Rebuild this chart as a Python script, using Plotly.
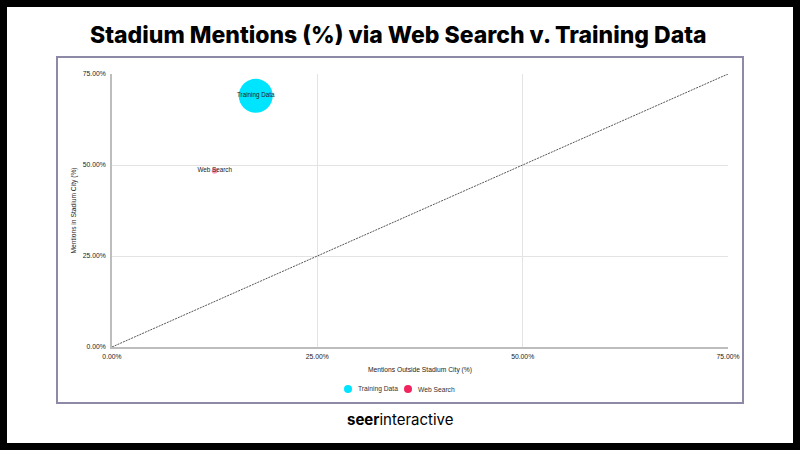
import plotly.graph_objects as go

# data
series = ["Training Data", "Web Search"]
outside_city = [0.175, 0.125]   # x, share of mentions outside stadium city
in_city = [0.69, 0.484]         # y, share of mentions in stadium city
bubble_weight = [32, 1]
colors = ["#00E5FF", "#F2245E"]
tick_vals = [0, 0.25, 0.5, 0.75]
tick_text = ["0.00%", "25.00%", "50.00%", "75.00%"]

W, H = 800, 450
L, R, T, B = 112, 72, 74, 103
pw, ph = W - L - R, H - T - B


def px(x):
    return (x - L) / pw


def py(y):
    return (H - B - y) / ph


fig = go.Figure()

# reference diagonal
fig.add_trace(go.Scatter(x=[0, 0.75], y=[0, 0.75], mode="lines",
                         line=dict(color="#555555", width=1, dash="2px,1px"),
                         showlegend=False, hoverinfo="skip"))

sizeref = 2.0 * max(bubble_weight) / (34 ** 2)
opac = [1.0, 0.45]
for i, name in enumerate(series):
    fig.add_trace(go.Scatter(x=[outside_city[i]], y=[in_city[i]],
                             mode="markers+text", text=[name],
                             textposition="middle center",
                             textfont=dict(family="Liberation Sans", size=6.3, color="#222222"),
                             marker=dict(size=[bubble_weight[i]], sizemode="area",
                                         sizeref=sizeref, color=colors[i],
                                         opacity=opac[i], line_width=0),
                             name=name, showlegend=False))

shapes = [
    dict(type="rect", xref="paper", yref="paper", layer="below",
         x0=px(7), x1=px(793), y0=py(443), y1=py(7),
         fillcolor="white", line_width=0),
    dict(type="rect", xref="paper", yref="paper", layer="below",
         x0=px(57), x1=px(743), y0=py(403), y1=py(57),
         fillcolor="rgba(0,0,0,0)", line=dict(color="#8C8AA6", width=2)),
]

annotations = [
    dict(text="Stadium Mentions (%) via Web Search v. Training Data",
         xref="paper", yref="paper", x=px(398), y=py(35), showarrow=False,
         xanchor="center", yanchor="middle",
         font=dict(family="Inter", size=23, color="black", weight=800)),
    dict(text="<b>seer</b>interactive",
         xref="paper", yref="paper", x=px(400), y=py(419), showarrow=False,
         xanchor="center", yanchor="middle",
         font=dict(family="Inter", size=15, color="black")),
]

# legend row: dot + label for each series
legend_x = [348, 408]
for i, name in enumerate(series):
    shapes.append(dict(type="circle", xref="paper", yref="paper",
                       xsizemode="pixel", ysizemode="pixel",
                       xanchor=px(legend_x[i]), yanchor=py(389),
                       x0=-4, x1=4, y0=-4, y1=4,
                       fillcolor=colors[i], line_width=0))
    annotations.append(dict(text=name, xref="paper", yref="paper",
                            x=px(legend_x[i] + 8), y=py(389), showarrow=False,
                            xanchor="left", yanchor="middle",
                            font=dict(size=6.7, color="#333333")))

fig.update_layout(
    width=W, height=H,
    margin=dict(l=L, r=R, t=T, b=B),
    paper_bgcolor="black",
    plot_bgcolor="rgba(0,0,0,0)",
    font=dict(family="Liberation Sans", size=6.8, color="#222222"),
    shapes=shapes,
    annotations=annotations,
    showlegend=False,
    xaxis=dict(range=[0, 0.75], tickvals=tick_vals, ticktext=tick_text,
               showgrid=True, gridcolor="#E3E3E3", gridwidth=1,
               showline=True, linecolor="#BDBDBD", linewidth=1.5,
               zeroline=False, ticks="", ticklabelstandoff=2,
               title=dict(text="Mentions Outside Stadium City (%)", standoff=8,
                          font=dict(size=6.7))),
    yaxis=dict(range=[0, 0.75], tickvals=tick_vals, ticktext=tick_text,
               showgrid=True, gridcolor="#E3E3E3", gridwidth=1,
               showline=True, linecolor="#BDBDBD", linewidth=1.5,
               zeroline=False, ticks="", ticklabelstandoff=3,
               title=dict(text="Mentions in Stadium City (%)", standoff=5,
                          font=dict(size=6.7))),
)

fig.write_html("out.html", config={"displayModeBar": False},
               post_script="document.body.style.margin='0';")
